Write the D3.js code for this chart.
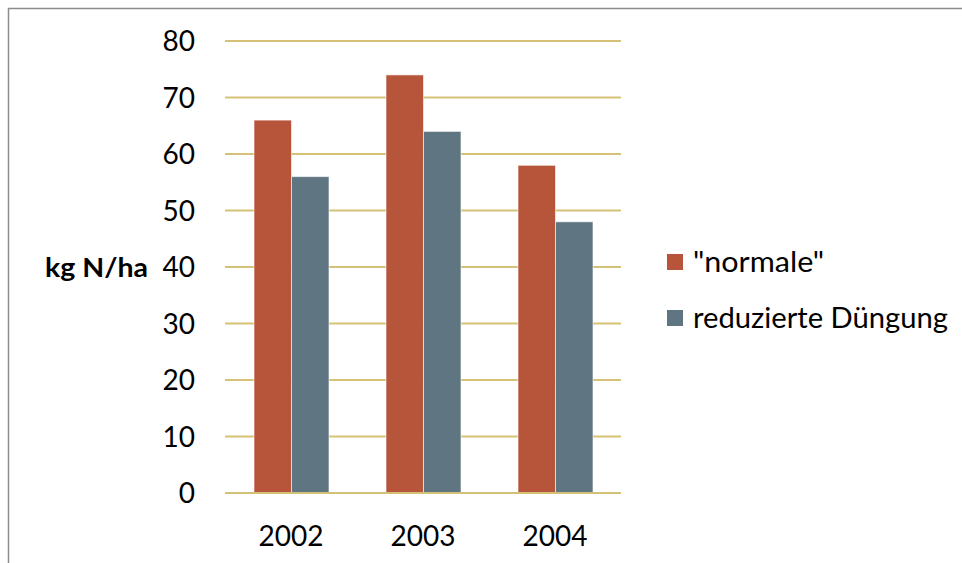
<!DOCTYPE html>
<html>
<head>
<meta charset="utf-8">
<script src="https://cdn.jsdelivr.net/npm/d3@7"></script>
<style>
  html, body { margin: 0; padding: 0; background: #fff; }
  svg { display: block; font-family: Lato, "Open Sans", sans-serif; }
</style>
</head>
<body>
<svg id="chart" width="962" height="563"></svg>
<script>
// Nitrogen fertilisation per year, two treatments
const years = ["2002", "2003", "2004"];
const seriesNames = ['"normale"', "reduzierte Düngung"];
const normale = [66, 74, 58];
const reduziert = [56, 64, 48];
const yTicks = [0, 10, 20, 30, 40, 50, 60, 70, 80];
const colors = ["#B7553A", "#5F7582"];

const svg = d3.select("#chart");

// frame around the chart area
svg.append("path")
  .attr("d", "M8.5,563 V8.5 H962")
  .attr("fill", "none")
  .attr("stroke", "#8c8c8c")
  .attr("stroke-width", 1.5);

const plot = { left: 225, right: 621, top: 41, bottom: 493 };

const y = d3.scaleLinear().domain([0, 80]).range([plot.bottom, plot.top]);
const x = d3.scaleBand().domain(years).range([plot.left, plot.right]).paddingInner(0).paddingOuter(0);
const x1 = d3.scaleBand().domain(seriesNames).range([29, x.bandwidth() - 28]);

// gridlines
svg.append("g").selectAll("line").data(yTicks).join("line")
  .attr("x1", plot.left).attr("x2", plot.right)
  .attr("y1", d => y(d)).attr("y2", d => y(d))
  .attr("stroke", "#D5C175").attr("stroke-width", 2);

// y tick labels
svg.append("g").selectAll("text").data(yTicks).join("text")
  .attr("x", 195).attr("y", d => y(d))
  .attr("dy", "0.36em")
  .attr("text-anchor", "end")
  .attr("font-size", 28)
  .attr("fill", "#000")
  .text(d => d);

// bars
const data = years.map((yr, i) => ({ year: yr, values: [normale[i], reduziert[i]] }));
const groups = svg.append("g").selectAll("g").data(data).join("g")
  .attr("transform", d => `translate(${x(d.year)},0)`);
groups.selectAll("rect").data(d => d.values.map((v, k) => ({ v, k }))).join("rect")
  .attr("x", d => x1(seriesNames[d.k]))
  .attr("width", x1.bandwidth())
  .attr("y", d => y(d.v))
  .attr("height", d => y(0) - y(d.v))
  .attr("fill", d => colors[d.k])
  .attr("stroke", "rgba(255,255,255,0.6)")
  .attr("stroke-width", 1);

// baseline drawn over the bars
svg.append("line")
  .attr("x1", plot.left).attr("x2", plot.right)
  .attr("y1", y(0)).attr("y2", y(0))
  .attr("stroke", "#D5C175").attr("stroke-width", 2);

// x labels
svg.append("g").selectAll("text").data(years).join("text")
  .attr("x", d => x(d) + x.bandwidth() / 2)
  .attr("y", 546)
  .attr("text-anchor", "middle")
  .attr("font-size", 28)
  .attr("fill", "#000")
  .text(d => d);

// y axis title
svg.append("text")
  .attr("x", 45).attr("y", 277)
  .attr("font-size", 26)
  .attr("font-weight", "bold")
  .attr("fill", "#000")
  .attr("textLength", 103)
  .attr("lengthAdjust", "spacingAndGlyphs")
  .text("kg N/ha");

// legend
const legendWidths = [131, 255];
const legend = svg.append("g").selectAll("g").data(seriesNames).join("g")
  .attr("transform", (d, i) => `translate(667,${262 + i * 56})`);
legend.append("rect")
  .attr("x", 0).attr("y", -8).attr("width", 16).attr("height", 16)
  .attr("fill", (d, i) => colors[i]);
legend.append("text")
  .attr("x", 26).attr("y", 0).attr("dy", "0.36em")
  .attr("font-size", 29)
  .attr("fill", "#000")
  .attr("textLength", (d, i) => legendWidths[i])
  .attr("lengthAdjust", "spacingAndGlyphs")
  .text(d => d);
</script>
</body>
</html>
